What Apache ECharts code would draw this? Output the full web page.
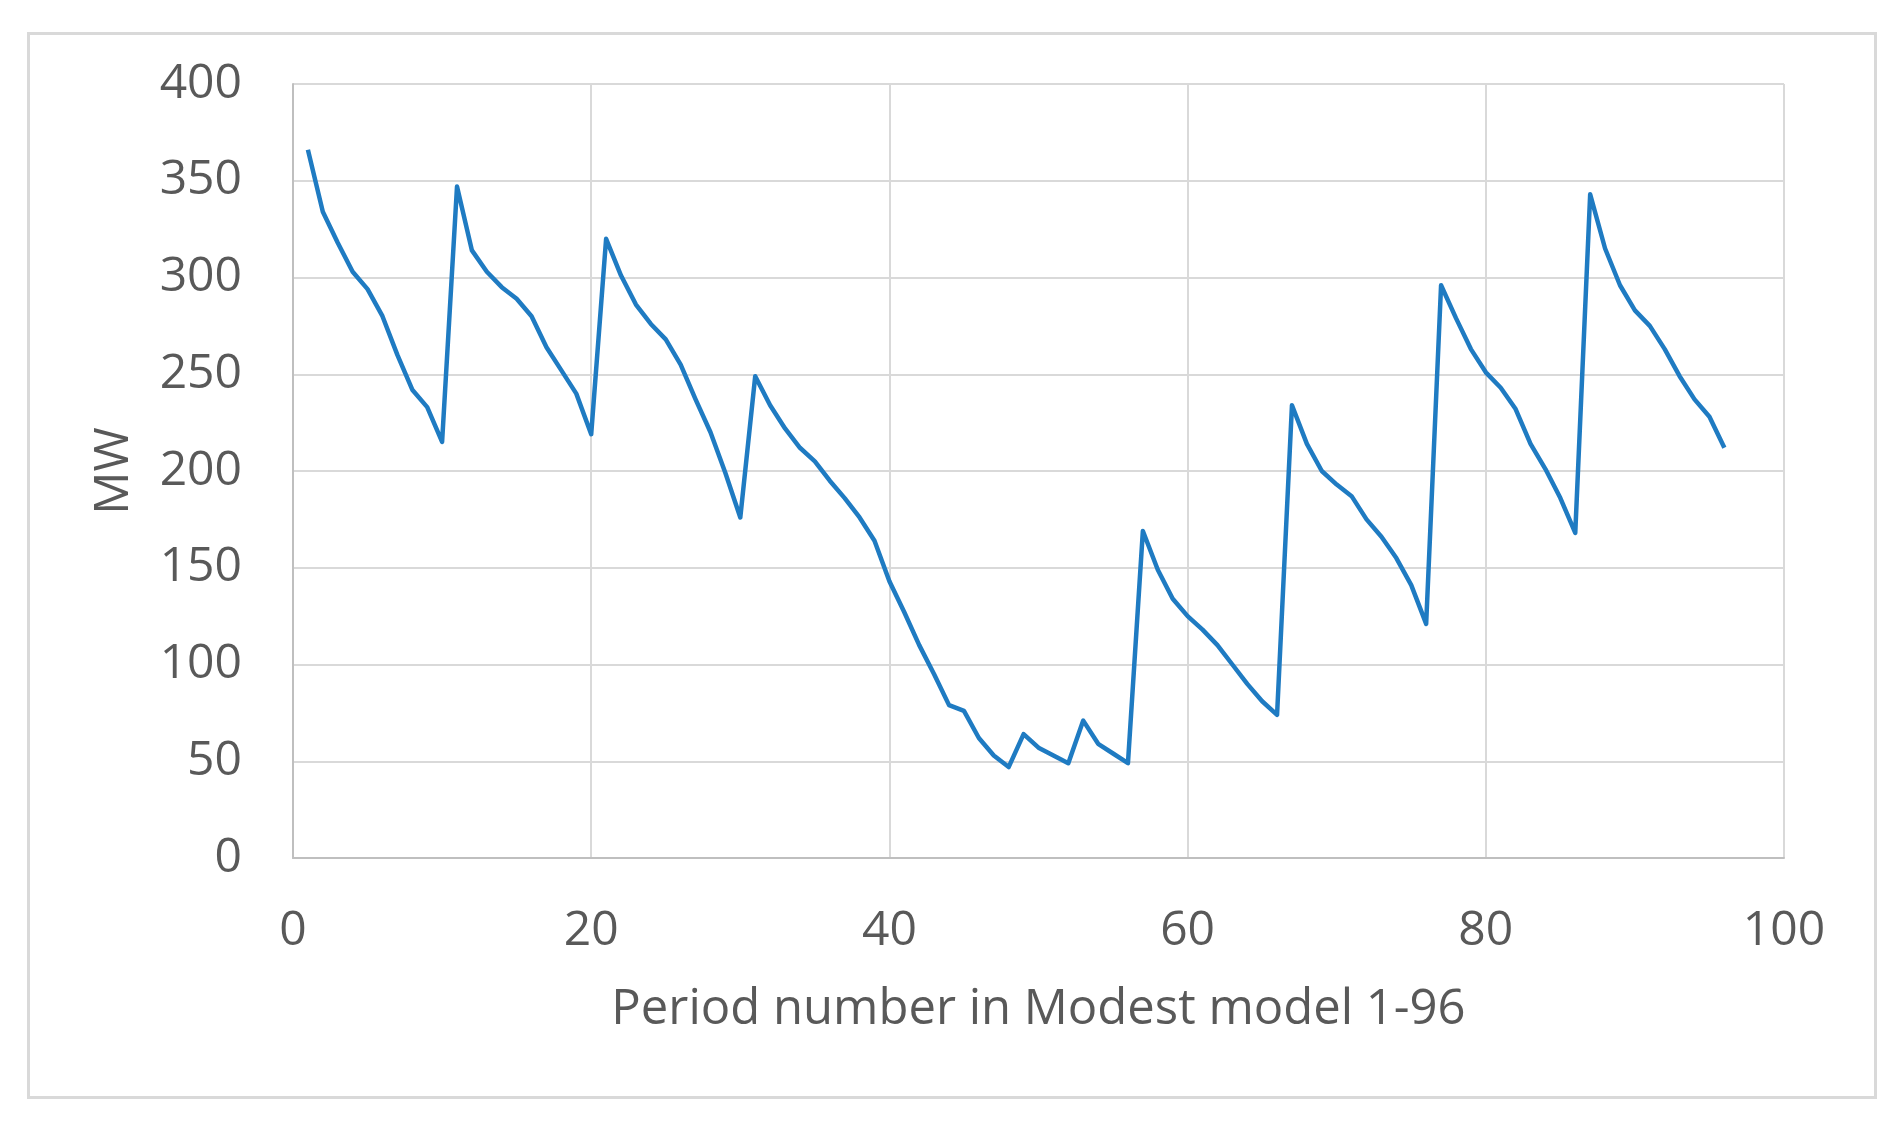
<!DOCTYPE html>
<html>
<head>
<meta charset="utf-8">
<script src="https://cdn.jsdelivr.net/npm/echarts@6/dist/echarts.min.js"></script>
<style>
html,body{margin:0;padding:0;background:#fff;}
#chart{width:1899px;height:1136px;}
</style>
</head>
<body>
<div id="chart"></div>
<script>
const periods = [1,2,3,4,5,6,7,8,9,10,11,12,13,14,15,16,17,18,19,20,21,22,23,24,25,26,27,28,29,30,31,32,33,34,35,36,37,38,39,40,41,42,43,44,45,46,47,48,49,50,51,52,53,54,55,56,57,58,59,60,61,62,63,64,65,66,67,68,69,70,71,72,73,74,75,76,77,78,79,80,81,82,83,84,85,86,87,88,89,90,91,92,93,94,95,96];
const mw = [366,334,318,303,294,280,260,242,233,215,
            347,314,303,295,289,280,264,252,240,219,
            320,301,286,276,268,255,237,220,199,176,
            249,234,222,212,205,195,186,176,164,143,
            127,110,95,79,76,62,53,47,64,57,
            53,49,71,59,54,49,169,149,134,125,
            118,110,100,90,81,74,234,214,200,193,
            187,175,166,155,141,121,296,279,263,251,
            243,232,214,201,186,168,343,315,296,283,
            275,263,249,237,228,212];
const xTicks = [0,20,40,60,80,100];
const yTicks = [0,50,100,150,200,250,300,350,400];
const xTitle = 'Period number in Modest model 1-96';
const yTitle = 'MW';

const chart = echarts.init(document.getElementById('chart'), null, {renderer:'canvas'});
const font = '"Open Sans", "Noto Sans", sans-serif';
chart.setOption({
  animation:false,
  backgroundColor:'#fff',
  graphic:[{
    type:'rect', left:26, top:31,
    shape:{width:1847, height:1064},
    style:{fill:'none', stroke:'#d9d9d9', lineWidth:3}
  }],
  grid:{left:293, right:115, top:84, bottom:278, containLabel:false},
  xAxis:{
    type:'value', min:xTicks[0], max:xTicks[xTicks.length-1], interval:20,
    name:xTitle, nameLocation:'middle', nameGap:128,
    nameTextStyle:{fontFamily:font, fontSize:49, color:'#595959'},
    axisLine:{show:true, lineStyle:{color:'#bfbfbf', width:2}},
    axisTick:{show:false},
    axisLabel:{fontFamily:font, fontSize:48, color:'#595959', margin:49},
    splitLine:{show:true, lineStyle:{color:'#d9d9d9', width:2}}
  },
  yAxis:{
    type:'value', min:yTicks[0], max:yTicks[yTicks.length-1], interval:50,
    name:yTitle, nameLocation:'middle', nameGap:155, nameRotate:90,
    nameTextStyle:{fontFamily:font, fontSize:48, color:'#595959'},
    axisLine:{show:true, lineStyle:{color:'#bfbfbf', width:2}},
    axisTick:{show:false},
    axisLabel:{fontFamily:font, fontSize:48, color:'#595959', margin:51},
    splitLine:{show:true, lineStyle:{color:'#d9d9d9', width:2}}
  },
  series:[{
    type:'line',
    data:periods.map((p,i)=>[p, mw[i]]),
    showSymbol:false,
    symbol:'none',
    lineStyle:{color:'#1f7bc2', width:4.5, join:'round'},
    itemStyle:{color:'#1f7bc2'}
  }]
});
</script>
</body>
</html>
